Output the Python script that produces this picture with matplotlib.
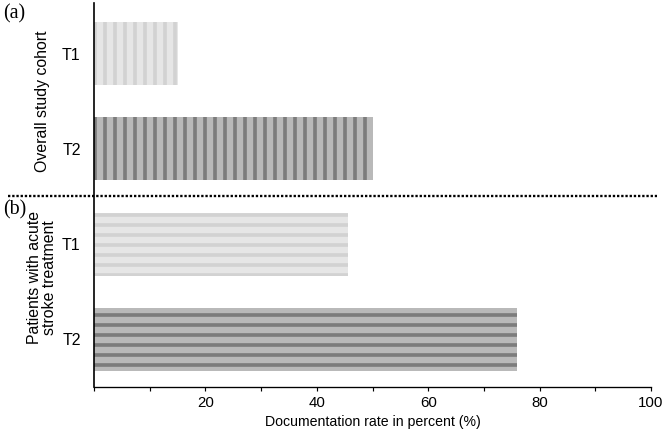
import matplotlib
matplotlib.use('AGG')
import matplotlib.pyplot as plt
import matplotlib.transforms as mtransforms
from matplotlib.ticker import MultipleLocator

# data
groups = ['Overall study cohort', 'Patients with acute\nstroke treatment']
panel_tags = ['(a)', '(b)']
bar_labels = ['T1', 'T2', 'T1', 'T2']
rates = [15, 50, 45.6, 76]
face_colors = ['#e6e6e6', '#b9b9b9', '#e6e6e6', '#b9b9b9']
stripe_colors = ['#d2d2d2', '#7c7c7c', '#d2d2d2', '#7c7c7c']
hatches = ['||', '||', '--', '--']

plt.rcParams['font.family'] = ['Liberation Sans', 'DejaVu Sans']
plt.rcParams['hatch.linewidth'] = 2.2

fig = plt.figure(figsize=(670 / 120, 432 / 120), dpi=120)
ax = fig.add_axes([94 / 670, 1 - 387 / 432, 557 / 670, 384 / 432])

pos = list(range(len(rates)))
bars = ax.barh(pos, rates, height=0.66, color=face_colors, linewidth=0)
for b, h, c in zip(bars, hatches, stripe_colors):
    b.set_hatch(h)
    b.set_edgecolor(c)

ax.set_ylim(3.5, -0.53)
ax.set_xlim(0, 100)
ax.set_yticks(pos)
ax.set_yticklabels(bar_labels, fontsize=9.5)
ax.tick_params(axis='y', length=0, pad=8)

ax.xaxis.set_minor_locator(MultipleLocator(10))
ax.set_xticks([20, 40, 60, 80, 100])
ax.tick_params(axis='x', which='both', length=2.5, width=0.7, labelsize=9, pad=3)
ax.set_xlabel('Documentation rate in percent (%)', fontsize=8.5, labelpad=3)

for s in ['top', 'right']:
    ax.spines[s].set_visible(False)
ax.spines['left'].set_linewidth(1.0)
ax.spines['bottom'].set_linewidth(0.8)

# dotted divider between the two panels
trans = mtransforms.blended_transform_factory(ax.transAxes, ax.transData)
ax.plot([-0.155, 1.01], [1.5, 1.5], transform=trans, color='black',
        linestyle=(0, (1, 0.8)), linewidth=1.4, clip_on=False)

# group labels and panel tags
ax.text(-0.093, 0.5, groups[0], transform=trans, rotation=90, ha='center',
        va='center', fontsize=9.5)
ax.text(-0.093, 2.35, groups[1], transform=trans, rotation=90, ha='center',
        va='center', fontsize=9.5, linespacing=1.0)
fig.text(3 / 670, 1 - 14 / 432, panel_tags[0], family='Liberation Serif',
         fontsize=12, va='center')
fig.text(3 / 670, 1 - 210 / 432, panel_tags[1], family='Liberation Serif',
         fontsize=12, va='center')

plt.savefig('out.png', dpi=120)
plt.close('all')
